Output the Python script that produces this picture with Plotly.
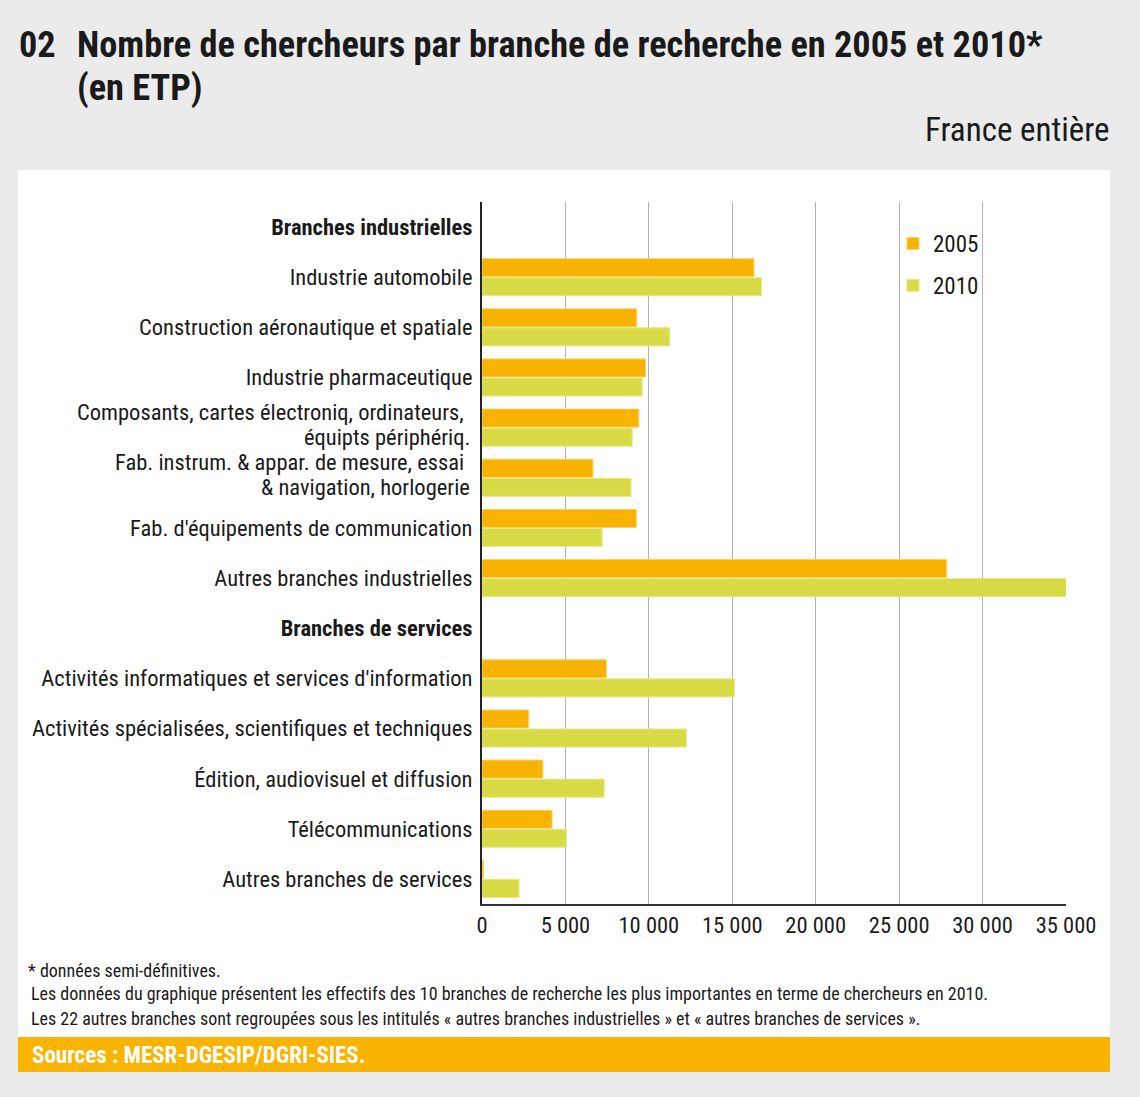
import plotly.graph_objects as go

categories = [
    "Branches industrielles",
    "Industrie automobile",
    "Construction aéronautique et spatiale",
    "Industrie pharmaceutique",
    "Composants, cartes électroniq, ordinateurs, équipts périphériq.",
    "Fab. instrum. & appar. de mesure, essai & navigation, horlogerie",
    "Fab. d'équipements de communication",
    "Autres branches industrielles",
    "Branches de services",
    "Activités informatiques et services d'information",
    "Activités spécialisées, scientifiques et techniques",
    "Édition, audiovisuel et diffusion",
    "Télécommunications",
    "Autres branches de services",
]
# tick label lines as displayed (bold headers, two-line labels)
label_lines = [
    ["<b>Branches industrielles</b>"],
    ["Industrie automobile"],
    ["Construction aéronautique et spatiale"],
    ["Industrie pharmaceutique"],
    ["Composants, cartes électroniq, ordinateurs,", "équipts périphériq."],
    ["Fab. instrum. & appar. de mesure, essai", "& navigation, horlogerie"],
    ["Fab. d'équipements de communication"],
    ["Autres branches industrielles"],
    ["<b>Branches de services</b>"],
    ["Activités informatiques et services d'information"],
    ["Activités spécialisées, scientifiques et techniques"],
    ["Édition, audiovisuel et diffusion"],
    ["Télécommunications"],
    ["Autres branches de services"],
]
values_2005 = [None, 16300, 9270, 9800, 9400, 6650, 9250, 27850, None, 7450, 2800, 3650, 4200, 100]
values_2010 = [None, 16750, 11250, 9600, 9000, 8930, 7200, 35100, None, 15130, 12250, 7320, 5060, 2220]
series_names = ["2005", "2010"]
tick_values = [0, 5000, 10000, 15000, 20000, 25000, 30000, 35000]
tick_labels = ["0", "5 000", "10 000", "15 000", "20 000", "25 000", "30 000", "35 000"]

W, H = 1140, 1097
L, R, T, B = 482, 1066, 202, 904
FONT = "Roboto Condensed, Liberation Sans Narrow, Arial Narrow, Liberation Sans, sans-serif"
TXT = "#1a1a1a"
LABEL_SIZE = 22.5

def px(x):
    return (x - L) / (R - L)

def py(y):
    return (B - y) / (B - T)

fig = go.Figure()
colors = ["#f8b200", "#d8db45"]
edge = ["#fbd36a", "#e6e88a"]
for name, vals, c, e in zip(series_names, [values_2005, values_2010], colors, edge):
    fig.add_trace(go.Bar(
        y=categories, x=vals, name=name, orientation="h",
        marker=dict(color=c, line=dict(color=e, width=1)),
        legendgroup=name,
    ))

shapes = [
    dict(type="rect", xref="paper", yref="paper", x0=px(18), x1=px(1110), y0=py(170), y1=py(1037),
         fillcolor="white", line=dict(width=0), layer="below"),
    dict(type="rect", xref="paper", yref="paper", x0=px(18), x1=px(1110), y0=py(1037), y1=py(1072),
         fillcolor="#f8b400", line=dict(width=0), layer="below"),
]

def ann(text, x, y, size, anchor="left", color=TXT):
    return dict(text=text, x=px(x), y=py(y), xref="paper", yref="paper", xanchor=anchor, yanchor="middle",
                showarrow=False, font=dict(family=FONT, size=size, color=color))

annotations = [
    ann("<b>02</b>", 17, 44, 36.3),
    ann("<b>Nombre de chercheurs par branche de recherche en 2005 et 2010*</b>", 75, 44, 36.3),
    ann("<b>(en ETP)</b>", 75, 88, 36.3),
    ann("France entière", 1111, 130, 33, anchor="right"),
    ann("* données semi-définitives.", 26, 970, 18),
    ann("Les données du graphique présentent les effectifs des 10 branches de recherche les plus importantes en terme de chercheurs en 2010.", 29, 993, 18),
    ann("Les 22 autres branches sont regroupées sous les intitulés « autres branches industrielles » et « autres branches de services ».", 29, 1018, 18),
    ann("<b>Sources : MESR-DGESIP/DGRI-SIES.</b>", 30, 1055, 23, color="white"),
]

# tick labels: single-line ones on the axis, two-line ones as tightly spaced lines
tick_text = []
for cat, lines in zip(categories, label_lines):
    if len(lines) == 1:
        tick_text.append(lines[0])
    else:
        tick_text.append("")
        for i, line in enumerate(lines):
            annotations.append(dict(
                text=line, xref="paper", yref="y", x=px(466 if i == 0 else 472), y=cat,
                yshift=15.5 - 25 * i, xanchor="right", yanchor="middle", showarrow=False,
                font=dict(family=FONT, size=LABEL_SIZE, color=TXT)))

fig.update_layout(
    width=W, height=H,
    margin=dict(l=L, r=W - R, t=T, b=H - B, autoexpand=False),
    paper_bgcolor="#ebebeb", plot_bgcolor="white",
    barmode="group", bargap=0.24, bargroupgap=0.05,
    font=dict(family=FONT, size=LABEL_SIZE, color=TXT),
    showlegend=True,
    legend=dict(x=px(893), y=py(222), xanchor="left", yanchor="top", bgcolor="rgba(0,0,0,0)",
                font=dict(family=FONT, size=23, color=TXT), traceorder="grouped",
                tracegroupgap=9, itemwidth=30),
    shapes=shapes, annotations=annotations,
    xaxis=dict(range=[0, 35000], tickvals=tick_values, ticktext=tick_labels, showgrid=True,
               gridcolor="#b3b3b3", gridwidth=1, zeroline=False, showline=True, linecolor="#333333",
               linewidth=2, ticks="", ticklabelstandoff=0, tickfont=dict(family=FONT, size=LABEL_SIZE, color=TXT),
               fixedrange=True),
    yaxis=dict(categoryorder="array", categoryarray=categories, autorange="reversed", showline=True,
               tickvals=categories, ticktext=tick_text,
               linecolor="#222222", linewidth=2, ticks="", ticklabelstandoff=3, showgrid=False,
               tickfont=dict(family=FONT, size=LABEL_SIZE, color=TXT), fixedrange=True),
)

fig.write_html("out.html", config={"displayModeBar": False},
               post_script="document.body.style.margin='0';")
